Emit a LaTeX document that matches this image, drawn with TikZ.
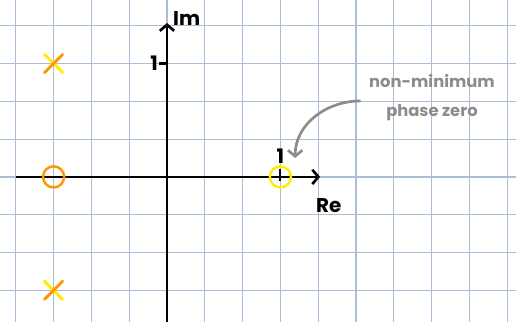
\documentclass[tikz,border=0pt]{standalone}
\usepackage{fontspec}
\setmainfont{Poppins}
\usetikzlibrary{arrows.meta}
\definecolor{gridc}{RGB}{172,188,216}
\definecolor{yel}{RGB}{255,236,0}
\definecolor{org}{RGB}{255,150,0}
\definecolor{notec}{RGB}{140,140,140}
\begin{document}
\begin{tikzpicture}[
  gridline/.style={gridc, line width=0.9pt},
  axis/.style={line width=2pt, -{Straight Barb[length=1.6mm,width=3.8mm,line width=2pt]}},
  tick/.style={line width=1.6pt},
  lab/.style={font=\bfseries\fontsize{15}{15}\selectfont, inner sep=0pt},
  zeromark/.style={circle, minimum size=0.56cm, inner sep=0pt, line width=1.8pt},
  polestroke/.style={line width=2.2pt, line cap=round},
  notetext/.style={notec, align=center, font=\bfseries\fontsize{12.3}{22}\selectfont, inner sep=0pt},
  notearrow/.style={notec, line width=2pt, -{Straight Barb[length=1.6mm,width=3.8mm,line width=2pt]}}
]
\useasboundingbox (-4.418,-3.836) rectangle (9.233,4.68);
\draw[gridline] (-4.418,-3.836) grid (9.233,4.68);
% axes
\coordinate (xs) at (-4,0);
\coordinate (xe) at (4.05,0);
\coordinate (ys) at (0,-3.9);
\coordinate (ye) at (0,4.07);
\draw[axis] (xs) -- (xe);
\draw[axis] (ys) -- (ye);
% ticks
\coordinate (ty) at (0,3);
\coordinate (tx) at (3,0);
\draw[tick] ([xshift=-0.2cm]ty) -- (ty);
\draw[tick] ([yshift=-0.1cm]tx) -- ([yshift=0.2cm]tx);
% labels
\node[lab] (im) at (0.52,4.18) {Im};
\node[lab] (re) at (4.28,-0.76) {Re};
\node[lab] (oney) at (-0.34,3.0) {1};
\node[lab] (onex) at (3.0,0.55) {1};
% zeros
\node[zeromark, draw=org] (z1) at (-3,0) {};
\node[zeromark, draw=yel] (z2) at (3,0) {};
% poles
\coordinate (p1) at (-3,3);
\coordinate (p2) at (-3,-3);
\draw[polestroke, yel] ([shift={(-0.24,0.24)}]p1) -- ([shift={(0.24,-0.24)}]p1);
\draw[polestroke, org] ([shift={(-0.24,-0.24)}]p1) -- ([shift={(0.24,0.24)}]p1);
\draw[polestroke, yel] ([shift={(-0.24,0.24)}]p2) -- ([shift={(0.24,-0.24)}]p2);
\draw[polestroke, org] ([shift={(-0.24,-0.24)}]p2) -- ([shift={(0.24,0.24)}]p2);
% annotation
\node[notetext] (note) at (7.01,2.09) {non-minimum\\phase zero};
\coordinate (tgt) at (3.39,0.5);
\draw[notearrow] ([xshift=-0.22cm,yshift=-0.08cm]note.west) to[out=180,in=90] (tgt);
\end{tikzpicture}
\end{document}
